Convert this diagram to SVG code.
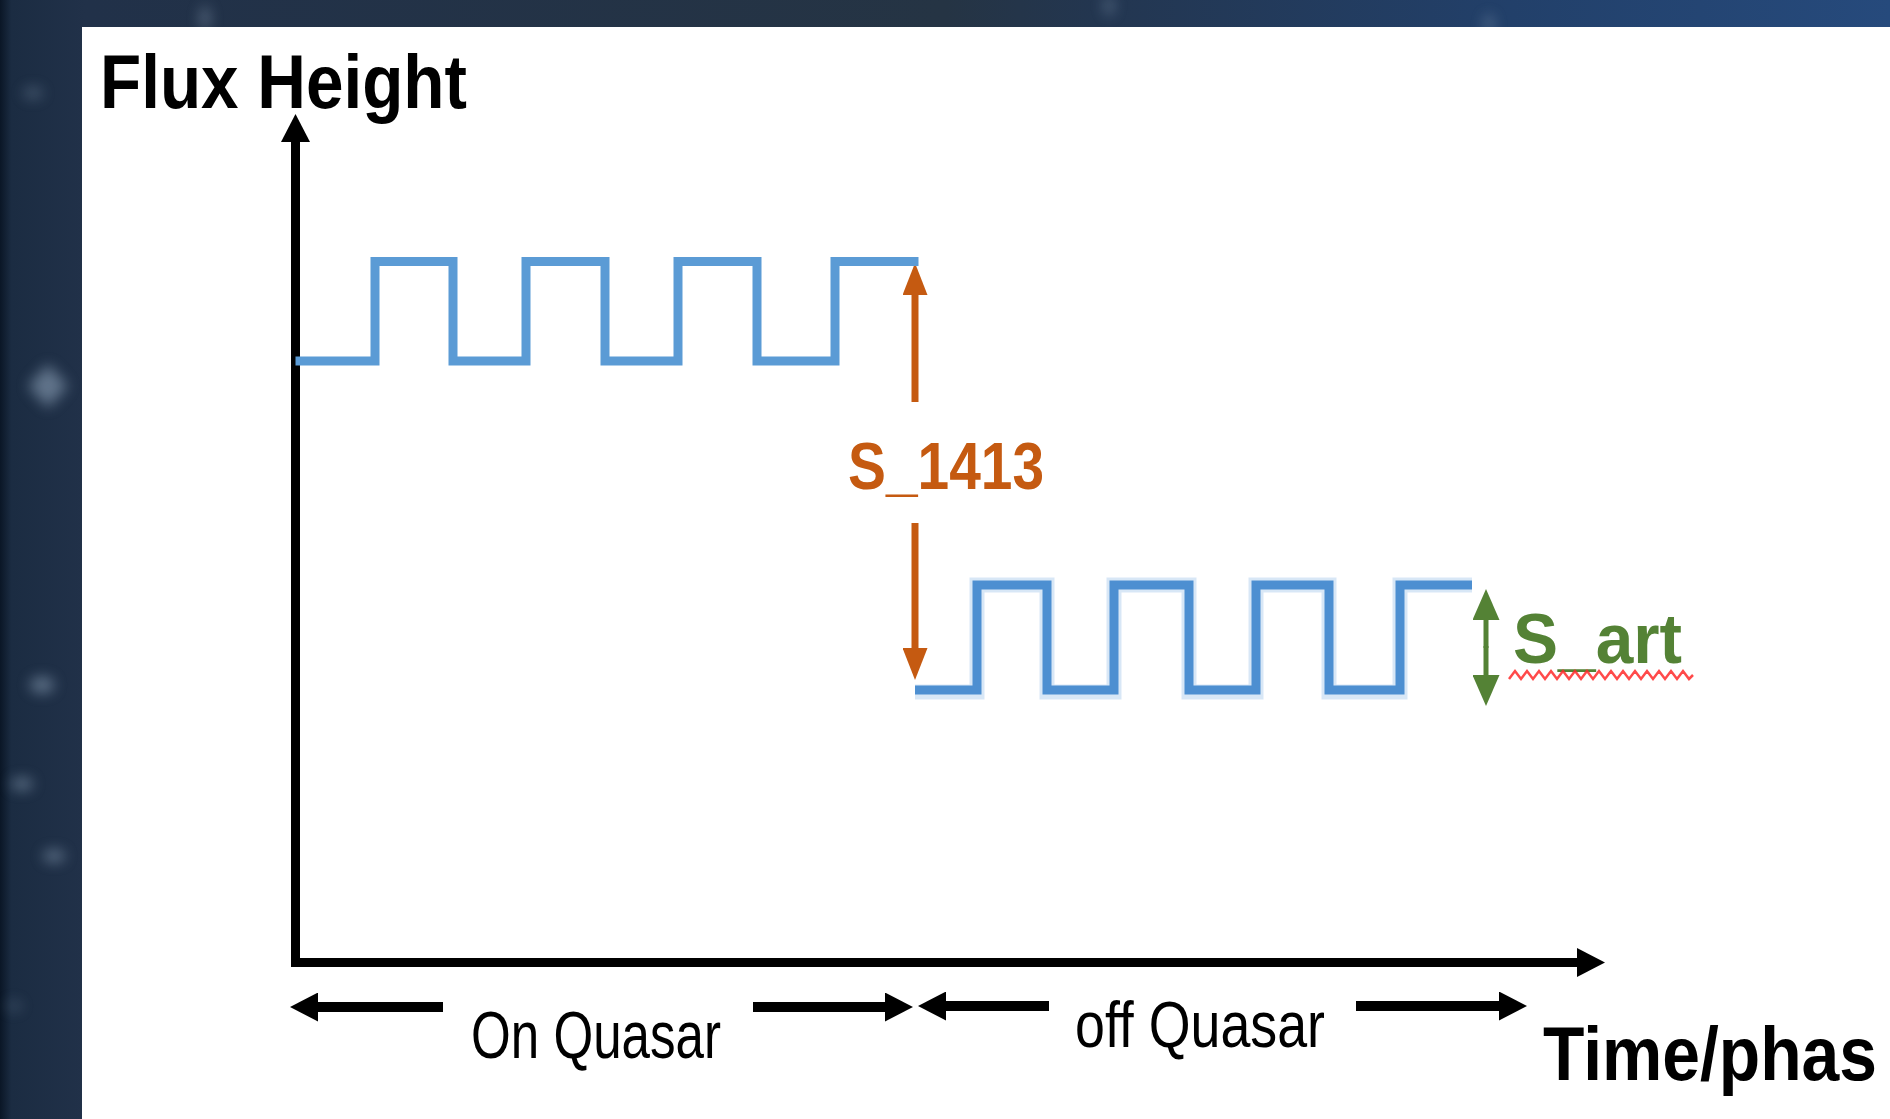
<svg xmlns="http://www.w3.org/2000/svg" width="1890" height="1119" viewBox="0 0 1890 1119">
  <defs>
    <style>
      .lbl { font-family: "Liberation Sans Narrow", "Liberation Sans", Arial, sans-serif; }
      .bold { font-weight: bold; }
      .axis { stroke: #000; stroke-width: 9; fill: none; }
      .span { stroke: #000; stroke-width: 10; fill: none; }
      .wave { fill: none; stroke: #5B9BD5; stroke-width: 9; stroke-linejoin: miter; stroke-linecap: square; }
      .wave-soft { fill: none; stroke: #a9c9ea; stroke-width: 15; stroke-linejoin: miter; stroke-linecap: butt; opacity: 0.45; }
      .wave-core { fill: none; stroke: #4d8fd1; stroke-width: 9; stroke-linejoin: miter; stroke-linecap: butt; }
      .dim-orange { stroke: #C55A11; stroke-width: 7; fill: none; }
      .dim-green { stroke: #548235; stroke-width: 5; fill: none; }
      .star { fill: #8ea3b9; }
    </style>
    <linearGradient id="bgGrad" x1="0" y1="0" x2="1" y2="0">
      <stop offset="0" stop-color="#0a1626"/>
      <stop offset="0.006" stop-color="#1b2c42"/>
      <stop offset="0.045" stop-color="#213149"/>
      <stop offset="0.5" stop-color="#253444"/>
      <stop offset="0.58" stop-color="#233650"/>
      <stop offset="0.8" stop-color="#22406a"/>
      <stop offset="1" stop-color="#264a7c"/>
    </linearGradient>
    <filter id="soft" x="-100%" y="-100%" width="300%" height="300%">
      <feGaussianBlur stdDeviation="7"/>
    </filter>
    <!-- arrowheads -->
    <marker id="headBlack" markerUnits="userSpaceOnUse" viewBox="0 0 28 29" markerWidth="28" markerHeight="29" refX="1" refY="14.5" orient="auto">
      <path d="M0,0 L28,14.5 L0,29 Z" fill="#000"/>
    </marker>
    <marker id="headAxis" markerUnits="userSpaceOnUse" viewBox="0 0 28 29" markerWidth="28" markerHeight="29" refX="2" refY="14.5" orient="auto">
      <path d="M0,0 L28,14.5 L0,29 Z" fill="#000"/>
    </marker>
    <marker id="headOrange" markerUnits="userSpaceOnUse" viewBox="0 0 32 25" markerWidth="32" markerHeight="25" refX="1" refY="12.5" orient="auto">
      <path d="M0,0 L32,12.5 L0,25 Z" fill="#C55A11"/>
    </marker>
    <marker id="headGreen" markerUnits="userSpaceOnUse" viewBox="0 0 31 27" markerWidth="31" markerHeight="27" refX="1" refY="13.5" orient="auto">
      <path d="M0,0 L31,13.5 L0,27 Z" fill="#548235"/>
    </marker>
  </defs>

  <!-- dark starfield backdrop -->
  <g id="backdrop">
    <rect x="0" y="0" width="1890" height="1119" fill="url(#bgGrad)"/>
    <g filter="url(#soft)" opacity="0.6">
      <path class="star" d="M48,364 L68,386 L48,408 L28,386 Z"/>
      <ellipse class="star" cx="42" cy="685" rx="12" ry="8"/>
      <ellipse class="star" cx="22" cy="784" rx="11" ry="6"/>
      <ellipse class="star" cx="54" cy="856" rx="11" ry="6"/>
      <ellipse class="star" cx="33" cy="93" rx="10" ry="6" opacity="0.6"/>
      <ellipse class="star" cx="14" cy="1006" rx="8" ry="5" opacity="0.5"/>
      <ellipse class="star" cx="205" cy="18" rx="5" ry="12" opacity="0.8"/>
      <ellipse class="star" cx="1109" cy="6" rx="5" ry="10" opacity="0.7"/>
      <ellipse class="star" cx="1489" cy="24" rx="5" ry="10" opacity="0.7"/>
    </g>
  </g>

  <!-- white chart panel -->
  <rect id="panel" x="82" y="27" width="1808" height="1092" fill="#ffffff"/>

  <!-- axes and span arrows -->
  <g id="connectors">
    <line id="y-axis" class="axis" x1="295.5" y1="967" x2="295.5" y2="140" marker-end="url(#headAxis)"/>
    <line id="x-axis" class="axis" x1="291" y1="962.5" x2="1579" y2="962.5" marker-end="url(#headAxis)"/>

    <line class="span" x1="443" y1="1007" x2="317" y2="1007" marker-end="url(#headBlack)"/>
    <line class="span" x1="753" y1="1007" x2="886" y2="1007" marker-end="url(#headBlack)"/>
    <line class="span" x1="1049" y1="1006" x2="945" y2="1006" marker-end="url(#headBlack)"/>
    <line class="span" x1="1356" y1="1006" x2="1500" y2="1006" marker-end="url(#headBlack)"/>

    <line class="dim-orange" x1="915" y1="402" x2="915" y2="294" marker-end="url(#headOrange)"/>
    <line class="dim-orange" x1="915" y1="523" x2="915" y2="649" marker-end="url(#headOrange)"/>

    <line class="dim-green" x1="1486" y1="648" x2="1486" y2="619" marker-end="url(#headGreen)"/>
    <line class="dim-green" x1="1486" y1="646" x2="1486" y2="676" marker-end="url(#headGreen)"/>
  </g>

  <!-- on-source square wave -->
  <g id="wave-on">
    <path class="wave" d="M300,361 H375 V261.5 H453 V361 H526 V261.5 H605 V361 H678 V261.5 H757 V361 H835 V261.5 H914"/>
  </g>

  <!-- off-source square wave -->
  <g id="wave-off">
    <path class="wave-soft" d="M915,692 H977 V585 H1047 V692 H1114 V585 H1189 V692 H1256 V585 H1329 V692 H1400 V585 H1472"/>
    <path class="wave-core" d="M915,690 H977 V585 H1047 V690 H1114 V585 H1189 V690 H1256 V585 H1329 V690 H1400 V585 H1472"/>
  </g>

  <!-- labels -->
  <g id="label-flux">
    <text class="lbl bold" x="100" y="108" font-size="76" fill="#000" textLength="367" lengthAdjust="spacingAndGlyphs">Flux Height</text>
  </g>
  <g id="label-s1413">
    <text class="lbl bold" x="848" y="489" font-size="66" fill="#C55A11" textLength="196" lengthAdjust="spacingAndGlyphs">S_1413</text>
  </g>
  <g id="label-sart">
    <text class="lbl bold" x="1513" y="663" font-size="70" fill="#548235" textLength="169" lengthAdjust="spacingAndGlyphs">S_art</text>
    <polyline fill="none" stroke="#ff2a2a" stroke-width="2.5" opacity="0.85" points="1509,679 1515,671 1521,679 1527,671 1533,679 1539,671 1545,679 1551,671 1557,679 1563,671 1569,679 1575,671 1581,679 1587,671 1593,679 1599,671 1605,679 1611,671 1617,679 1623,671 1629,679 1635,671 1641,679 1647,671 1653,679 1659,671 1665,679 1671,671 1677,679 1683,671 1689,679 1693,675"/>
  </g>
  <g id="label-on">
    <text class="lbl" x="471" y="1058" font-size="67" fill="#000" textLength="250" lengthAdjust="spacingAndGlyphs">On Quasar</text>
  </g>
  <g id="label-off">
    <text class="lbl" x="1075" y="1047" font-size="64" fill="#000" textLength="250" lengthAdjust="spacingAndGlyphs">off Quasar</text>
  </g>
  <g id="label-time" transform="translate(1543,1080) scale(1,1.13)">
    <text class="lbl bold" x="0" y="0" font-size="68" fill="#000" textLength="334" lengthAdjust="spacingAndGlyphs">Time/phas</text>
  </g>
</svg>
